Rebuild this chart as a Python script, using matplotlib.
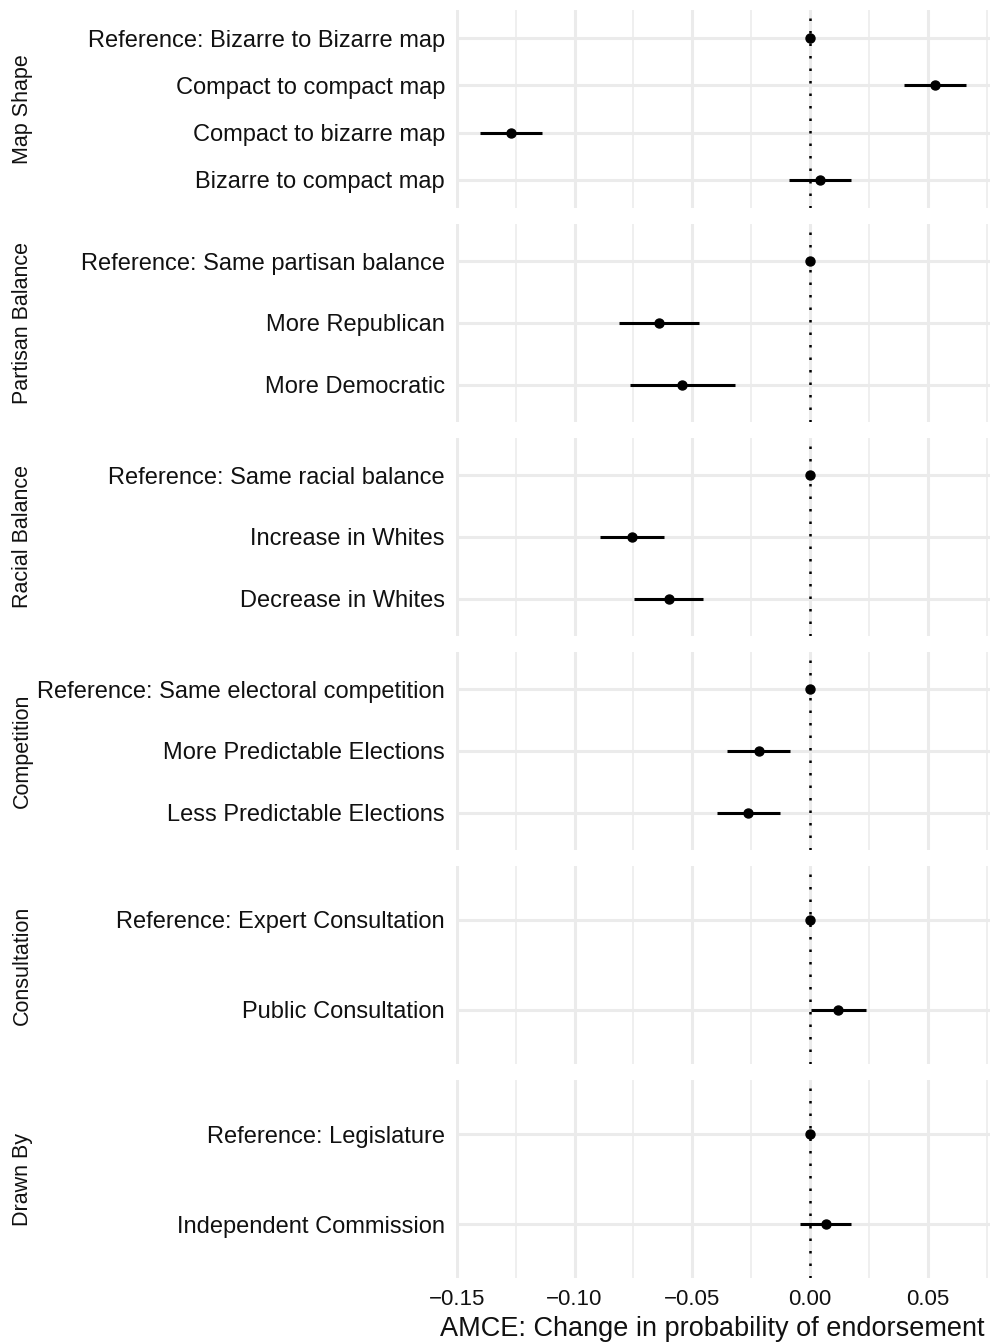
import numpy as np
import matplotlib
matplotlib.use("Agg")
import matplotlib.pyplot as plt

plt.rcParams["font.family"] = ["Liberation Sans", "DejaVu Sans"]

# attribute groups (facets), top to bottom
groups = ["Map Shape", "Partisan Balance", "Racial Balance",
          "Competition", "Consultation", "Drawn By"]

levels = [
    ["Reference: Bizarre to Bizarre map", "Compact to compact map",
     "Compact to bizarre map", "Bizarre to compact map"],
    ["Reference: Same partisan balance", "More Republican", "More Democratic"],
    ["Reference: Same racial balance", "Increase in Whites", "Decrease in Whites"],
    ["Reference: Same electoral competition", "More Predictable Elections",
     "Less Predictable Elections"],
    ["Reference: Expert Consultation", "Public Consultation"],
    ["Reference: Legislature", "Independent Commission"],
]

estimates = [
    [0.0, 0.0528, -0.1271, 0.0042],
    [0.0, -0.0642, -0.0543],
    [0.0, -0.0757, -0.0601],
    [0.0, -0.0217, -0.0263],
    [0.0, 0.0120],
    [0.0, 0.0066],
]
lower = [
    [0.0, 0.0398, -0.1400, -0.0088],
    [0.0, -0.0810, -0.0766],
    [0.0, -0.0893, -0.0746],
    [0.0, -0.0352, -0.0394],
    [0.0, 0.0004],
    [0.0, -0.0045],
]
upper = [
    [0.0, 0.0660, -0.1140, 0.0174],
    [0.0, -0.0470, -0.0320],
    [0.0, -0.0622, -0.0455],
    [0.0, -0.0085, -0.0130],
    [0.0, 0.0238],
    [0.0, 0.0174],
]

W, H = 990, 1344
fig = plt.figure(figsize=(W / 100, H / 100), dpi=100)

grid_col = "#EBEBEB"
xmin, xmax = -0.1503, 0.0763
left_px, right_px = 456, 990
top_px, panel_h, pitch = 10, 198, 214
aw = right_px - left_px

for i, g in enumerate(groups):
    y0 = top_px + i * pitch
    ax = fig.add_axes([left_px / W, 1 - (y0 + panel_h) / H, aw / W, panel_h / H])
    n = len(levels[i])
    pos = np.arange(n)
    est = np.array(estimates[i])
    lo = np.array(lower[i])
    hi = np.array(upper[i])

    ax.set_xlim(xmin, xmax)
    ax.set_ylim(n - 1 + 0.6, -0.6)

    # grid
    for v in np.arange(-0.15, 0.076, 0.05):
        ax.axvline(v, color=grid_col, lw=2.2, zorder=0)
    for v in np.arange(-0.125, 0.076, 0.05):
        ax.axvline(v, color=grid_col, lw=1.1, zorder=0)
    for p in pos:
        ax.axhline(p, color=grid_col, lw=2.2, zorder=0)

    ax.axvline(0, color="black", lw=1.8, linestyle=(0, (1, 4)), zorder=1)
    ax.hlines(pos, lo, hi, color="black", lw=2.2, zorder=2)
    ax.scatter(est, pos, s=42, color="black", zorder=3)

    ax.set_yticks(pos)
    ax.set_yticklabels(levels[i], fontsize=17, color="#111111")
    ax.tick_params(axis="y", length=0, pad=8)
    for s in ax.spines.values():
        s.set_visible(False)

    ax.set_ylabel(g, fontsize=15.5, color="#111111")
    ax.yaxis.set_label_coords(-(left_px - 33) / aw, 0.5)

    if i < len(groups) - 1:
        ax.set_xticks([])
    else:
        ticks = [-0.15, -0.10, -0.05, 0.00, 0.05]
        ax.set_xticks(ticks)
        ax.set_xticklabels(["\u22120.15", "\u22120.10", "\u22120.05", "0.00", "0.05"],
                           fontsize=16, color="#111111")
        ax.tick_params(axis="x", length=0, pad=8)
        ax.set_xlabel("AMCE: Change in probability of endorsement", fontsize=19.5,
                      color="#111111", ha="right", va="baseline")
        ax.xaxis.set_label_coords((985 - left_px) / aw, -(1336 - 1278) / panel_h)

fig.savefig("out.png", dpi=100, facecolor="white")
